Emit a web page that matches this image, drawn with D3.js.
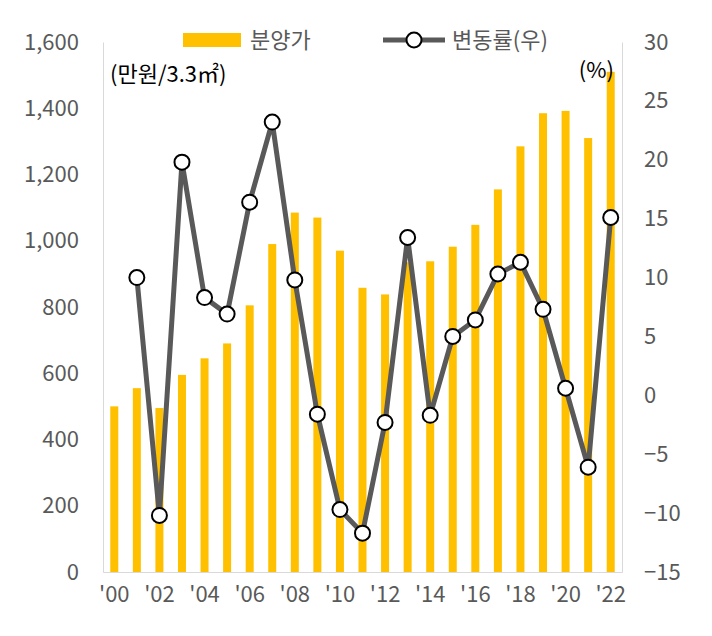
<!DOCTYPE html>
<html><head><meta charset="utf-8">
<script src="https://cdn.jsdelivr.net/npm/d3@7"></script>
<style>body{margin:0;background:#fff}</style></head>
<body><svg id="c" width="712" height="636"></svg>
<script>
const years = ["00","01","02","03","04","05","06","07","08","09","10","11","12","13","14","15","16","17","18","19","20","21","22"];
const price = [500,555,495,595,645,690,805,990,1085,1070,970,858,838,935,938,982,1048,1155,1285,1385,1392,1310,1510];
const change = [null,10.0,-10.2,19.8,8.3,6.9,16.4,23.2,9.8,-1.6,-9.7,-11.7,-2.3,13.4,-1.7,5.0,6.4,10.3,11.3,7.3,0.6,-6.1,15.1];
const leftTicks = [0,200,400,600,800,1000,1200,1400,1600];
const rightTicks = [-15,-10,-5,0,5,10,15,20,25,30];

const svg = d3.select("#c");
const font = "'Noto Sans CJK KR', 'Noto Sans', sans-serif";
const L=103,R=622,T=42,B=572;
const x = d3.scaleBand().domain(years).range([L,R]);
const yL = d3.scaleLinear().domain([0,1600]).range([B,T]);
const yR = d3.scaleLinear().domain([-15,30]).range([B,T]);
const gray="#595959";

svg.append("g").attr("transform",`translate(${L},0)`)
  .call(d3.axisLeft(yL).tickValues(leftTicks).tickSize(0).tickPadding(24))
  .call(g=>{g.select(".domain").attr("stroke","#d9d9d9");g.selectAll("text").attr("font-size",22).attr("fill",gray).attr("font-family",font);});
svg.append("g").attr("transform",`translate(${R},0)`)
  .call(d3.axisRight(yR).tickValues(rightTicks).tickSize(0).tickPadding(22))
  .call(g=>{g.select(".domain").attr("stroke","#d9d9d9");g.selectAll("text").attr("font-size",22).attr("fill",gray).attr("font-family",font);});
svg.append("g").attr("transform",`translate(0,${B})`)
  .call(d3.axisBottom(x).tickValues(years.filter((d,i)=>i%2==0)).tickFormat(d=>"'"+d).tickSize(0).tickPadding(14))
  .call(g=>{g.select(".domain").attr("stroke","#d9d9d9");g.selectAll("text").attr("font-size",22).attr("fill",gray).attr("font-family",font);});

const bw=8;
svg.selectAll(".bar").data(price).join("rect")
  .attr("x",(d,i)=>x(years[i])+x.bandwidth()/2-bw/2).attr("width",bw)
  .attr("y",d=>yL(d)).attr("height",d=>B-yL(d)).attr("fill","#FFC000");

const pts = change.map((v,i)=>({v,i})).filter(d=>d.v!==null);
const line = d3.line().x(d=>x(years[d.i])+x.bandwidth()/2).y(d=>yR(d.v));
svg.append("path").datum(pts).attr("d",line).attr("fill","none").attr("stroke",gray).attr("stroke-width",5);
svg.selectAll(".pt").data(pts).join("circle")
  .attr("cx",d=>x(years[d.i])+x.bandwidth()/2).attr("cy",d=>yR(d.v)).attr("r",7.5)
  .attr("fill","#fff").attr("stroke","#000").attr("stroke-width",2);

// legend
svg.append("rect").attr("x",183).attr("y",33).attr("width",58).attr("height",14).attr("fill","#FFC000");
svg.append("text").attr("x",250).attr("y",48).text("분양가").attr("font-size",22).attr("fill",gray).attr("font-family",font);
svg.append("line").attr("x1",383).attr("x2",445).attr("y1",40).attr("y2",40).attr("stroke",gray).attr("stroke-width",5);
svg.append("circle").attr("cx",414).attr("cy",40).attr("r",7.5).attr("fill","#fff").attr("stroke","#000").attr("stroke-width",2);
svg.append("text").attr("x",452).attr("y",48).text("변동률(우)").attr("font-size",22).attr("fill",gray).attr("font-family",font);
svg.append("text").attr("x",110).attr("y",82).text("(만원/3.3㎡)").attr("font-size",22).attr("fill","#000").attr("font-family",font);
svg.append("text").attr("x",614).attr("y",78).attr("text-anchor","end").text("(%)").attr("font-size",22).attr("fill","#000").attr("font-family",font);
</script></body></html>
